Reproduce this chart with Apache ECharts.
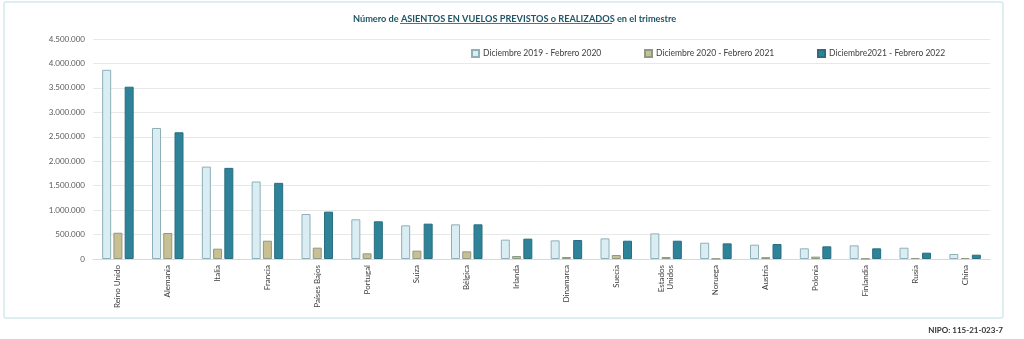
<!DOCTYPE html>
<html>
<head>
<meta charset="utf-8">
<script src="https://cdn.jsdelivr.net/npm/echarts@6/dist/echarts.min.js"></script>
<style>html,body{margin:0;padding:0;background:#fff}#c{width:1024px;height:339px}</style>
</head>
<body>
<div id="c"></div>
<script>
const categories = ['Reino Unido','Alemania','Italia','Francia','Países Bajos','Portugal','Suiza','Bélgica','Irlanda','Dinamarca','Suecia','Estados\nUnidos','Noruega','Austria','Polonia','Finlandia','Rusia','China'];
const seriesNames = ['Diciembre 2019 - Febrero 2020','Diciembre 2020 - Febrero 2021','Diciembre2021 - Febrero 2022'];
const values2020 = [3870000,2680000,1890000,1585000,921000,812000,689000,709000,396000,381000,422000,524000,333000,293000,218000,279000,231000,102000];
const values2021 = [537000,532000,211000,374000,232000,116000,171000,157000,61000,41000,82000,41000,7000,38000,48000,7000,20000,20000];
const values2022 = [3524000,2592000,1864000,1558000,969000,771000,723000,709000,416000,388000,374000,374000,320000,306000,259000,218000,129000,88000];
const yTicks = [0,500000,1000000,1500000,2000000,2500000,3000000,3500000,4000000,4500000];

const chart = echarts.init(document.getElementById('c'), null, {renderer:'canvas'});
const fmt = v => v === 0 ? '0' : String(v).replace(/\B(?=(\d{3})+(?!\d))/g, '.');
const fontFam = 'Lato, "Open Sans", sans-serif';
const styles = [
  {color:'#daedf3', borderColor:'#8db0b9', borderWidth:1},
  {color:'#c8bf93', borderColor:'#8c9a86', borderWidth:1},
  {color:'#2e8399', borderColor:'#2a6e80', borderWidth:1}
];
const data = [values2020, values2021, values2022];
const legendLeft = [466, 639, 812];

chart.setOption({
  animation:false,
  textStyle:{fontFamily:fontFam},
  title:{
    text:'Número de ASIENTOS EN VUELOS PREVISTOS o REALIZADOS en el trimestre',
    left:348, top:10,
    textStyle:{fontSize:9.2, fontWeight:'bold', color:'#1d5566', fontFamily:fontFam}
  },
  legend: seriesNames.map((n,i)=>({
    data:[n], left:legendLeft[i], top:44, itemWidth:7, itemHeight:7, itemGap:4,
    icon:'rect',
    textStyle:{fontSize:8.5, color:'#404040', padding:[0,0,0,-1]}
  })),
  grid:{left:93, right:34, top:39, bottom:80},
  xAxis:{
    type:'category', data:categories,
    axisLine:{lineStyle:{color:'#d9d9d9'}},
    axisTick:{show:false},
    axisLabel:{rotate:90, interval:0, fontSize:8, color:'#404040', lineHeight:9, margin:6}
  },
  yAxis:{
    type:'value', min:0, max:4500000, interval:500000,
    axisLabel:{formatter:v=>fmt(v), fontSize:8, color:'#595959', margin:8},
    splitLine:{lineStyle:{color:'#e8e8e8'}},
    axisLine:{show:false}, axisTick:{show:false}
  },
  series: seriesNames.map((n,i)=>({
    name:n, type:'bar', data:data[i], barWidth:9, barGap:'25%',
    itemStyle:styles[i]
  })),
  graphic:[
    {type:'rect', shape:{x:4, y:2, width:999, height:316, r:2}, style:{fill:'none', stroke:'#d3e9f0', lineWidth:1.5}, z:-1},
    {type:'line', shape:{x1:400, y1:23.5, x2:612, y2:23.5}, style:{stroke:'#1d5566', lineWidth:0.8}},
    {type:'text', right:21, top:326, style:{text:'NIPO: 115-21-023-7', font:'bold 8px Lato, "Open Sans", sans-serif', fill:'#333'}}
  ]
});
</script>
</body>
</html>
